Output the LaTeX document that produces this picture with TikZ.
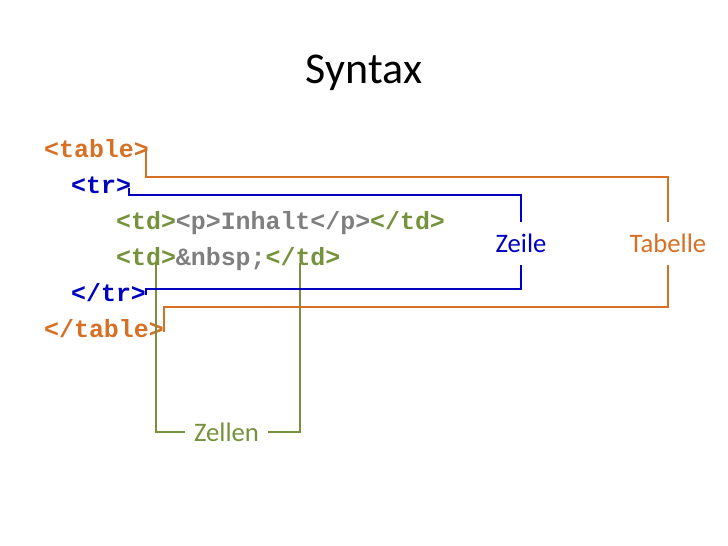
\documentclass[tikz,border=0pt]{standalone}
\usepackage{fontspec}
\setmainfont{Carlito}
\newfontfamily\codefont{Liberation Mono}
\definecolor{orangeC}{RGB}{214,112,36}
\definecolor{blueC}{RGB}{0,0,192}
\definecolor{greenC}{RGB}{118,146,60}
\definecolor{grayC}{RGB}{127,127,127}
\begin{document}
\begin{tikzpicture}[x=1pt,y=-1pt,
  code/.style={anchor=base west,inner sep=0pt,font=\codefont\bfseries\fontsize{24.9}{26}\selectfont},
  lbl/.style={inner sep=0pt,minimum height=43pt,font=\fontsize{26.7}{30}\selectfont},
  conn/.style={line width=1.6pt}]
\fill[white] (0,0) rectangle (728,546);
\useasboundingbox (0,0) rectangle (728,546);
\node[font=\fontsize{44}{50}\selectfont] (title) at (364,73) {Syntax};
\node[code,text=orangeC] (l1) at (44,157) {<table>};
\node[code,text=blueC] (l2) at (71,193) {<tr>};
\node[code] (l3) at (116,229) {\textcolor{greenC}{<td>}\textcolor{grayC}{<p>Inhalt</p>}\textcolor{greenC}{</td>}};
\node[code] (l4) at (116,265) {\textcolor{greenC}{<td>}\textcolor{grayC}{\&nbsp;}\textcolor{greenC}{</td>}};
\node[code,text=blueC] (l5) at (71,301) {</tr>};
\node[code,text=orangeC] (l6) at (44,337) {</table>};
\node[lbl,text=blueC] (zeile) at (521,243.5) {Zeile};
\node[lbl,text=orangeC] (tabelle) at (668,243.5) {Tabelle};
\node[lbl,text=greenC,minimum width=83pt] (zellen) at (226.5,432) {Zellen};
% green
\coordinate (g1) at (156,263);
\coordinate (g2) at (300,263);
\draw[conn,greenC] (g1) |- (zellen.west);
\draw[conn,greenC] (g2) |- (zellen.east);
% orange
\coordinate (ot) at (668,177);
\coordinate (ob) at (668,307);
\draw[conn,orangeC] (146,149) |- (ot) -- (tabelle.north);
\draw[conn,orangeC] (tabelle.south) -- (ob) -| (164,332);
% blue
\coordinate (bt) at (521,195);
\coordinate (bb) at (521,289);
\draw[conn,blueC] (129,188) |- (bt) -- (zeile.north);
\draw[conn,blueC] (zeile.south) -- (bb) -| (146,295);
\end{tikzpicture}
\end{document}
